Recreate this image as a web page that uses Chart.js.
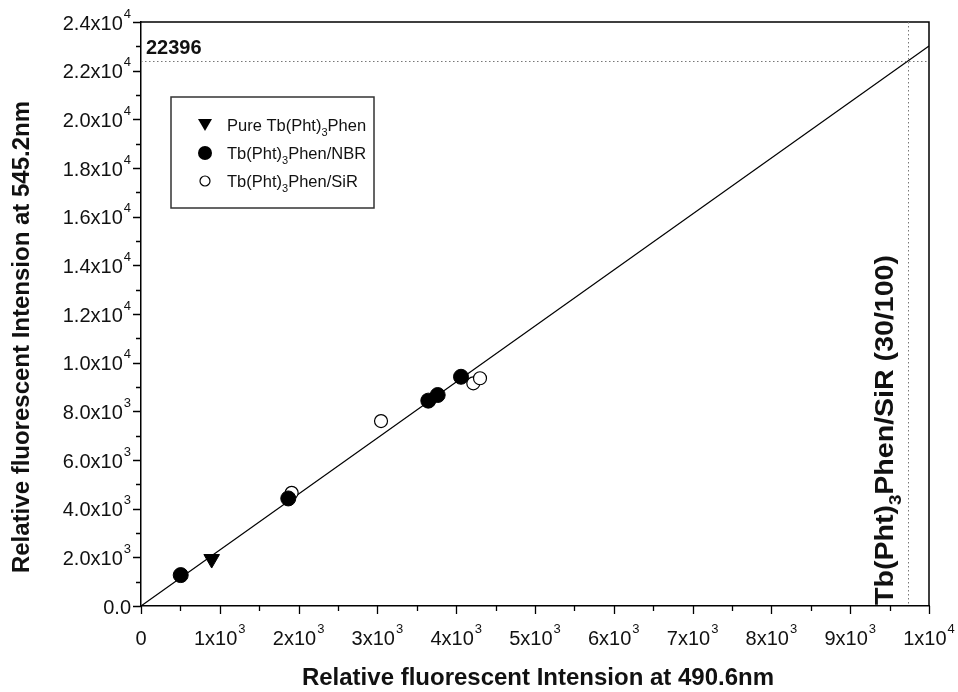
<!DOCTYPE html>
<html><head><meta charset="utf-8">
<script src="https://cdn.jsdelivr.net/npm/chart.js@4.4.1/dist/chart.umd.min.js"></script>
<style>html,body{margin:0;padding:0;background:#fff}#wrap{width:958px;height:692px}</style>
</head><body><div id="wrap"><canvas id="c" width="958" height="692"></canvas></div>
<script>
// ---- data ----
const pureX = [897];
const pureY = [1930];
const nbrX = [504, 1869, 3646, 3765, 4061];
const nbrY = [1270, 4420, 8440, 8670, 9420];
const sirX = [1912, 3046, 4217, 4302];
const sirY = [4650, 7600, 9150, 9360];
const fitX = [0, 10000];
const fitY = [0, 23010];
const markValue = 22396;
const markX = 9730;
const xTickValues = [0,1000,2000,3000,4000,5000,6000,7000,8000,9000,10000];
const xTickBase = ["0","1x10","2x10","3x10","4x10","5x10","6x10","7x10","8x10","9x10","1x10"];
const xTickExp  = ["","3","3","3","3","3","3","3","3","3","4"];
const yTickValues = [0,2000,4000,6000,8000,10000,12000,14000,16000,18000,20000,22000,24000];
const yTickBase = ["0.0","2.0x10","4.0x10","6.0x10","8.0x10","1.0x10","1.2x10","1.4x10","1.6x10","1.8x10","2.0x10","2.2x10","2.4x10"];
const yTickExp  = ["","3","3","3","3","4","4","4","4","4","4","4","4"];
const legendLabels = [["Pure Tb(Pht)","3","Phen"],["Tb(Pht)","3","Phen/NBR"],["Tb(Pht)","3","Phen/SiR"]];
const sideLabel = ["Tb(Pht)","3","Phen/SiR (30/100)"];
const xTitle = "Relative fluorescent Intension at 490.6nm";
const yTitle = "Relative fluorescent Intension at 545.2nm";

const zip = (xs, ys) => xs.map((x, i) => ({x, y: ys[i]}));
const FONT = "'Liberation Sans', Arial, sans-serif";

function subWidth(ctx, parts, size, weight) {
  ctx.font = `${weight} ${size}px ${FONT}`;
  let w = ctx.measureText(parts[0]).width + ctx.measureText(parts[2]).width;
  ctx.font = `${weight} ${Math.round(size*0.65)}px ${FONT}`;
  return w + ctx.measureText(parts[1]).width;
}
function drawSub(ctx, parts, x, y, size, weight) {
  ctx.textBaseline = 'alphabetic';
  ctx.textAlign = 'left';
  ctx.font = `${weight} ${size}px ${FONT}`;
  ctx.fillText(parts[0], x, y);
  let cx = x + ctx.measureText(parts[0]).width;
  ctx.font = `${weight} ${Math.round(size*0.65)}px ${FONT}`;
  ctx.fillText(parts[1], cx, y + size*0.3);
  cx += ctx.measureText(parts[1]).width;
  ctx.font = `${weight} ${size}px ${FONT}`;
  ctx.fillText(parts[2], cx, y);
}
const TS = 20, ES = 13;
function supWidth(ctx, base, exp) {
  ctx.font = `${TS}px ${FONT}`;
  let w = ctx.measureText(base).width;
  if (exp) { ctx.font = `${ES}px ${FONT}`; w += ctx.measureText(exp).width + 1; }
  return w;
}
function drawSup(ctx, base, exp, x, yMid) {
  ctx.textAlign = 'left'; ctx.textBaseline = 'middle';
  ctx.font = `${TS}px ${FONT}`;
  ctx.fillText(base, x, yMid);
  if (exp) {
    const bw = ctx.measureText(base).width;
    ctx.font = `${ES}px ${FONT}`;
    ctx.fillText(exp, x + bw + 1, yMid - 10);
  }
}

const deco = {
  id: 'deco',
  afterDraw(chart) {
    const ctx = chart.ctx, a = chart.chartArea;
    const xs = chart.scales.x, ys = chart.scales.y;
    ctx.save();
    ctx.strokeStyle = '#000'; ctx.fillStyle = '#111';
    ctx.lineWidth = 1.5;
    ctx.beginPath();
    ctx.moveTo(a.left, a.top); ctx.lineTo(a.right, a.top); ctx.lineTo(a.right, a.bottom);
    ctx.stroke();
    ctx.lineWidth = 1.3;
    ctx.beginPath();
    for (let v = 0; v <= 10000; v += 500) {
      const p = Math.round(xs.getPixelForValue(v)) + 0.5;
      const len = (v % 1000 === 0) ? 8 : 5;
      ctx.moveTo(p, a.bottom); ctx.lineTo(p, a.bottom + len);
    }
    for (let v = 0; v <= 24000; v += 1000) {
      const p = Math.round(ys.getPixelForValue(v)) + 0.5;
      const len = (v % 2000 === 0) ? 8 : 5;
      ctx.moveTo(a.left, p); ctx.lineTo(a.left - len, p);
    }
    ctx.stroke();
    xTickValues.forEach((v, i) => {
      const w = supWidth(ctx, xTickBase[i], xTickExp[i]);
      drawSup(ctx, xTickBase[i], xTickExp[i], xs.getPixelForValue(v) - w/2, a.bottom + 33);
    });
    yTickValues.forEach((v, i) => {
      const w = supWidth(ctx, yTickBase[i], yTickExp[i]);
      drawSup(ctx, yTickBase[i], yTickExp[i], 131 - w, ys.getPixelForValue(v) + 2);
    });
    ctx.font = `bold 24px ${FONT}`;
    ctx.textAlign = 'center'; ctx.textBaseline = 'middle';
    ctx.fillText(xTitle, 538, 678);
    ctx.save();
    ctx.translate(22, 337);
    ctx.rotate(-Math.PI/2);
    ctx.fillText(yTitle, 0, 0);
    ctx.restore();
    ctx.setLineDash([1.5, 2.5]);
    ctx.lineWidth = 1;
    ctx.strokeStyle = '#777';
    const hy = Math.round(ys.getPixelForValue(markValue)) + 0.5;
    const vx = Math.round(xs.getPixelForValue(markX)) + 0.5;
    ctx.beginPath();
    ctx.moveTo(a.left, hy); ctx.lineTo(a.right, hy);
    ctx.moveTo(vx, a.top); ctx.lineTo(vx, a.bottom);
    ctx.stroke();
    ctx.setLineDash([]);
    ctx.fillStyle = '#111';
    ctx.font = `bold 20px ${FONT}`;
    ctx.textAlign = 'left'; ctx.textBaseline = 'alphabetic';
    ctx.fillText(String(markValue), a.left + 5, 54);
    const lx = 171, ly = 97, lw = 203, lh = 111;
    ctx.strokeStyle = '#333'; ctx.lineWidth = 1.5;
    ctx.strokeRect(lx, ly, lw, lh);
    const rows = [125, 153, 181];
    ctx.fillStyle = '#000'; ctx.strokeStyle = '#000';
    ctx.beginPath();
    ctx.moveTo(198, rows[0] - 6); ctx.lineTo(212, rows[0] - 6); ctx.lineTo(205, rows[0] + 6);
    ctx.closePath(); ctx.fill();
    ctx.beginPath(); ctx.arc(205, rows[1], 7, 0, Math.PI*2); ctx.fill();
    ctx.beginPath(); ctx.arc(205, rows[2], 5, 0, Math.PI*2);
    ctx.fillStyle = '#fff'; ctx.fill(); ctx.lineWidth = 1.2; ctx.stroke();
    ctx.fillStyle = '#111';
    legendLabels.forEach((parts, i) => drawSub(ctx, parts, 227, rows[i] + 6, 16.5, 'normal'));
    ctx.save();
    ctx.translate(893, 605);
    ctx.rotate(-Math.PI/2);
    const sw = subWidth(ctx, sideLabel, 26, 'bold');
    ctx.scale(350 / sw, 1);
    drawSub(ctx, sideLabel, 0, 0, 26, 'bold');
    ctx.restore();
    ctx.restore();
  }
};

new Chart(document.getElementById('c'), {
  type: 'scatter',
  data: {
    datasets: [
      { type: 'line', label: 'fit', data: zip(fitX, fitY), borderColor: '#000', borderWidth: 1.2, pointRadius: 0, fill: false, order: 3 },
      { label: 'Pure Tb(Pht)3Phen', data: zip(pureX, pureY), pointStyle: 'triangle', rotation: 180, radius: 9, backgroundColor: '#000', borderColor: '#000', order: 1 },
      { label: 'Tb(Pht)3Phen/NBR', data: zip(nbrX, nbrY), pointStyle: 'circle', radius: 7.5, backgroundColor: '#000', borderColor: '#000', order: 1 },
      { label: 'Tb(Pht)3Phen/SiR', data: zip(sirX, sirY), pointStyle: 'circle', radius: 6.5, backgroundColor: '#fff', borderColor: '#000', borderWidth: 1.2, order: 2 }
    ]
  },
  options: {
    responsive: false, animation: false, devicePixelRatio: 1,
    layout: { padding: { left: 0, right: 29, top: 22, bottom: 0 } },
    plugins: { legend: { display: false }, tooltip: { enabled: false } },
    scales: {
      x: {
        type: 'linear', min: 0, max: 10000,
        afterFit: s => { s.height = 86; s.paddingLeft = 0; s.paddingRight = 0; },
        ticks: { display: false },
        grid: { display: false, drawTicks: false },
        border: { display: true, color: '#000', width: 1.5 }
      },
      y: {
        type: 'linear', min: 0, max: 24000,
        afterFit: s => { s.width = 141; s.paddingTop = 0; s.paddingBottom = 0; },
        ticks: { display: false },
        grid: { display: false, drawTicks: false },
        border: { display: true, color: '#000', width: 1.5 }
      }
    }
  },
  plugins: [deco]
});
</script></body></html>
